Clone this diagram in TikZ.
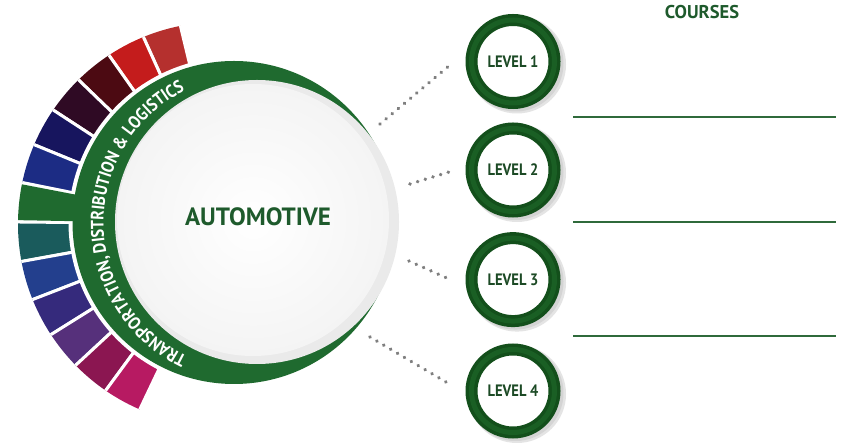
\documentclass[tikz,border=0pt]{standalone}
\usepackage{fontspec}
\setmainfont{PT Sans}
\newfontfamily\condfont{PT Sans}[FakeStretch=0.88]
\definecolor{segA}{HTML}{B5302E}
\definecolor{segB}{HTML}{C41C1C}
\definecolor{segC}{HTML}{4C0A12}
\definecolor{segD}{HTML}{2F0A24}
\definecolor{segE}{HTML}{17155E}
\definecolor{segF}{HTML}{1C2C84}
\definecolor{segH}{HTML}{1A5B5C}
\definecolor{segI}{HTML}{233F8D}
\definecolor{segJ}{HTML}{352A7C}
\definecolor{segK}{HTML}{56307B}
\definecolor{segL}{HTML}{8B1651}
\definecolor{segM}{HTML}{B71A62}
\definecolor{ringgreen}{HTML}{1F6A2F}
\definecolor{txtgreen}{HTML}{1E5A2C}
\definecolor{lvltext}{HTML}{1C4A25}
\definecolor{ringdark}{HTML}{134F1B}
\definecolor{ringmid}{HTML}{1A5F24}
\definecolor{dotgray}{HTML}{7F7F7F}
\definecolor{hlinecol}{HTML}{2F6A3B}
\definecolor{rimgray}{HTML}{EAEAEA}
\definecolor{facegray}{HTML}{F4F4F4}
\definecolor{shadowgray}{HTML}{E4E4E4}
\definecolor{shadowgrayb}{HTML}{D4D4D4}
\newlength\chw
\newlength\totw
\newcommand\arcfont{\condfont\bfseries\fontsize{18}{18}\selectfont}
\newcommand\arcletters{T,R,A,N,S,P,O,R,T,A,T,I,O,N,{,},~,D,I,S,T,R,I,B,U,T,I,O,N,~,\&,~,L,O,G,I,S,T,I,C,S}
\tikzset{
  dotline/.style={line width=3.8, dash pattern=on 0.01pt off 8pt, line cap=round, draw=dotgray},
  hline/.style={line width=2.2, draw=hlinecol},
  lvl/.style={circle, minimum size=83, inner sep=0pt, draw=ringdark, line width=12, fill=white,
    text=lvltext, font=\condfont\bfseries\fontsize{16.5}{16.5}\selectfont,
    postaction={draw=ringmid, line width=5}},
  arcchar/.style={inner sep=0pt, anchor=base, text=white, font=\arcfont},
  title/.style={text=txtgreen, inner sep=0pt}
}
\begin{document}%
\setlength\totw{0pt}%
\foreach \ch [count=\n] in \arcletters {%
  \settowidth\chw{\arcfont\ch}%
  \global\advance\totw by \chw
  \expandafter\xdef\csname arcw\n\endcsname{\the\chw}%
}%
\begin{tikzpicture}[x=1pt,y=1pt]
\useasboundingbox (0,0) rectangle (850,446);
\fill[white] (0,0) rectangle (850,446);
% coloured segments
\begin{scope}
  \clip (220,222) circle[radius=202];
  \foreach \a/\b/\col in {103.5/114.35/segA, 114.35/125.2/segB, 125.2/136.05/segC,
      136.05/146.9/segD, 146.9/157.75/segE, 157.75/168.6/segF, 179.45/190.3/segH,
      190.3/201.15/segI, 201.15/212/segJ, 212/222.85/segK, 222.85/233.7/segL, 233.7/244.55/segM}
    {\filldraw[fill=\col, draw=white, line width=3] (228,222) -- ++(\a:300) arc[start angle=\a, end angle=\b, radius=300] -- cycle;}
  \fill[white] (234,223.5) circle[radius=165.5];
  \fill[ringgreen] (228,222) -- ++(169.1:300) arc[start angle=169.1, end angle=178.95, radius=300] -- cycle;
\end{scope}
% green crescent
\fill[ringgreen] (234,223.5) circle[radius=161.5];
% main white disc
\fill[rimgray] (257,224) circle[radius=142];
\shade[inner color=white, outer color=facegray] (253,226) circle[radius=136];
% arc text, letter by letter
\coordinate (tc) at (252,223);
\xdef\sacc{0}
\foreach \ch [count=\n] in \arcletters {
  \edef\wcur{\csname arcw\n\endcsname}
  \pgfmathsetmacro\angA{180.5+(\the\totw/2-\sacc-\wcur/2)/148.5*57.29578}
  \pgfmathsetmacro\rotA{\angA-90}
  \node[arcchar, rotate=\rotA] (arc\n) at ([shift={(\angA:148.5)}]tc) {\ch};
  \pgfmathsetmacro\snew{\sacc+\wcur}
  \xdef\sacc{\snew}
}
\node[title, font=\bfseries\fontsize{25}{25}\selectfont] (auto) at (258,229) {AUTOMOTIVE};
% dotted connectors
\coordinate (d1a) at (380,322); \coordinate (d1b) at (450,381);
\coordinate (d2a) at (410,262); \coordinate (d2b) at (449,274);
\coordinate (d3a) at (409,185); \coordinate (d3b) at (449,167);
\coordinate (d4a) at (370,109); \coordinate (d4b) at (451,61);
\draw[dotline] (d1a) -- (d1b);
\draw[dotline] (d2a) -- (d2b);
\draw[dotline] (d3a) -- (d3b);
\draw[dotline] (d4a) -- (d4b);
% levels
\foreach \yy in {384.5,276,166.4,55}
  {\fill[shadowgray] (517,\yy-3) circle[radius=49];
   \fill[shadowgrayb] (515.5,\yy-2) circle[radius=48];}
\node[lvl] (l1) at (513,384.5) {LEVEL 1};
\node[lvl] (l2) at (513,276) {LEVEL 2};
\node[lvl] (l3) at (513,166.4) {LEVEL 3};
\node[lvl] (l4) at (513,55) {LEVEL 4};
% courses column
\node[title, font=\bfseries\fontsize{18.5}{18.5}\selectfont] (courses) at (702,434) {COURSES};
\coordinate (h1a) at (573,329); \coordinate (h1b) at (836,329);
\coordinate (h2a) at (573,224); \coordinate (h2b) at (836,224);
\coordinate (h3a) at (573,110); \coordinate (h3b) at (836,110);
\draw[hline] (h1a) -- (h1b);
\draw[hline] (h2a) -- (h2b);
\draw[hline] (h3a) -- (h3b);
\end{tikzpicture}%
\end{document}
